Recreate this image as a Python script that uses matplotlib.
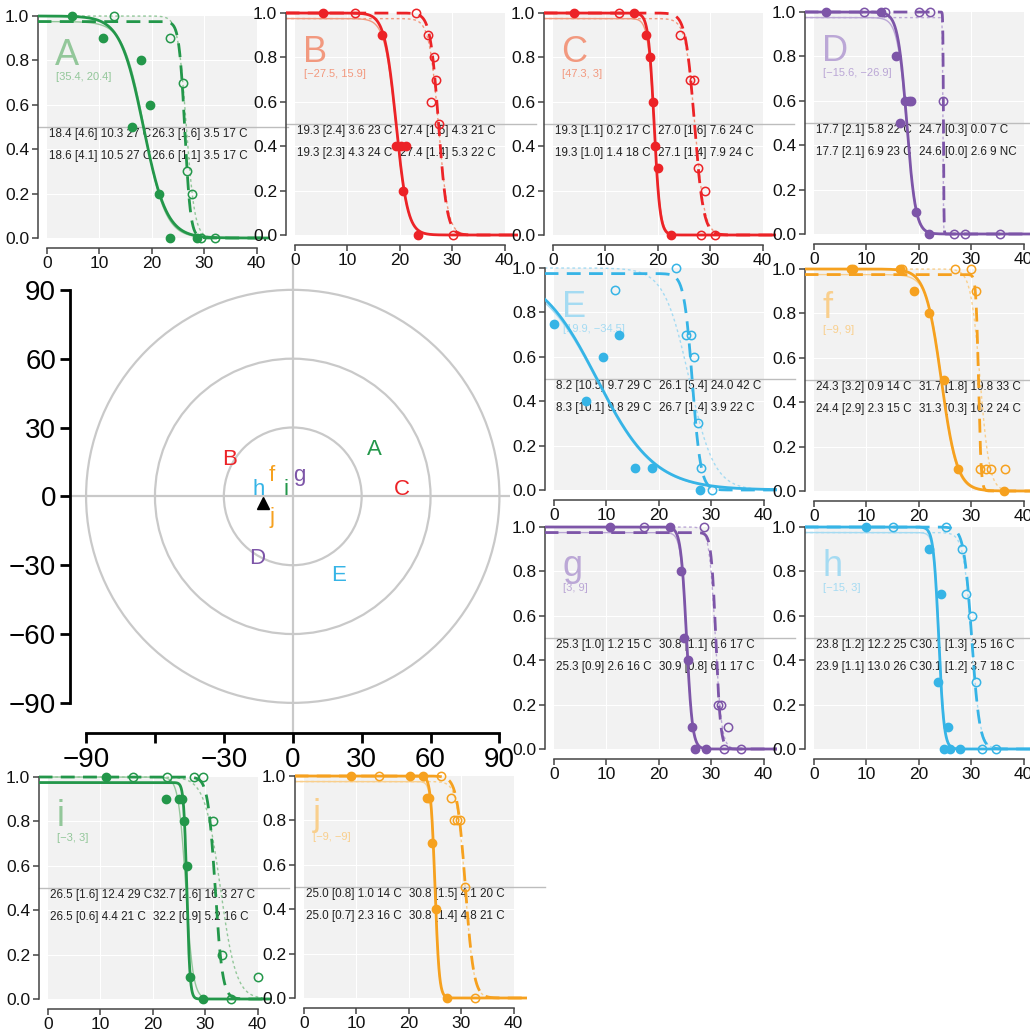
import numpy as np
import matplotlib.pyplot as plt
from matplotlib.patches import Circle, Rectangle

plt.rcParams['font.family'] = ['Liberation Sans', 'DejaVu Sans']

# ---- data ----
panels = ['A', 'B', 'C', 'D', 'E', 'f', 'g', 'h', 'i', 'j']

colors = {'A': '#23974a', 'B': '#ec2327', 'C': '#ec2327', 'D': '#7d55a8',
          'E': '#36b4e6', 'f': '#f6a11f', 'g': '#7d55a8', 'h': '#36b4e6',
          'i': '#23974a', 'j': '#f6a11f'}
light = {'A': '#93c79a', 'B': '#f2997f', 'C': '#f2997f', 'D': '#bba7d6',
         'E': '#a5dbf2', 'f': '#f9cf8d', 'g': '#bba7d6', 'h': '#a5dbf2',
         'i': '#93c79a', 'j': '#f9cf8d'}

# stimulus position [azimuth, elevation]
pos_x = {'A': 35.4, 'B': -27.5, 'C': 47.3, 'D': -15.6, 'E': 19.9,
         'f': -9, 'g': 3, 'h': -15, 'i': -3, 'j': -9}
pos_y = {'A': 20.4, 'B': 15.9, 'C': 3, 'D': -26.9, 'E': -34.5,
         'f': 9, 'g': 9, 'h': 3, 'i': 3, 'j': -9}
pos_label = {'A': '[35.4, 20.4]', 'B': '[\u221227.5, 15.9]', 'C': '[47.3, 3]',
             'D': '[\u221215.6, \u221226.9]', 'E': '[19.9, \u221234.5]',
             'f': '[\u22129, 9]', 'g': '[3, 9]', 'h': '[\u221215, 3]',
             'i': '[\u22123, 3]', 'j': '[\u22129, \u22129]'}
fix_x, fix_y = -13, -3

# filled points (condition 1)
filled_x = {
    'A': [4.7, 10.7, 17.9, 19.7, 16.2, 21.4, 23.4, 28.6],
    'B': [5.3, 16.6, 19.3, 20.3, 21.2, 20.6, 23.5],
    'C': [4.1, 15.4, 17.8, 18.5, 19.0, 19.4, 20.1, 22.5],
    'D': [2.3, 12.8, 15.7, 17.4, 18.1, 18.6, 16.5, 19.4, 22.0],
    'E': [0.0, 6.2, 9.4, 12.4, 15.5, 18.7, 27.9],
    'f': [7.1, 7.5, 16.4, 19.0, 21.9, 24.8, 27.5, 36.3],
    'g': [10.7, 22.2, 24.2, 24.9, 25.6, 26.3, 27.0, 29.1],
    'h': [10.0, 22.0, 24.3, 23.7, 25.5, 24.9, 26.0, 27.8],
    'i': [11.0, 22.5, 25.0, 25.5, 26.0, 26.6, 27.1, 29.5],
    'j': [9.0, 20.3, 22.8, 23.5, 23.9, 24.4, 25.1, 27.3],
}
filled_y = {
    'A': [1.0, 0.9, 0.8, 0.6, 0.5, 0.2, 0.0, 0.0],
    'B': [1.0, 0.9, 0.4, 0.4, 0.4, 0.2, 0.0],
    'C': [1.0, 1.0, 0.9, 0.8, 0.6, 0.4, 0.3, 0.0],
    'D': [1.0, 1.0, 0.8, 0.6, 0.6, 0.6, 0.5, 0.1, 0.0],
    'E': [0.75, 0.4, 0.6, 0.7, 0.1, 0.1, 0.0],
    'f': [1.0, 1.0, 1.0, 0.9, 0.8, 0.5, 0.1, 0.0],
    'g': [1.0, 1.0, 0.8, 0.5, 0.4, 0.1, 0.0, 0.0],
    'h': [1.0, 0.9, 0.7, 0.3, 0.1, 0.0, 0.0, 0.0],
    'i': [1.0, 0.9, 0.9, 0.9, 0.8, 0.6, 0.1, 0.0],
    'j': [1.0, 1.0, 1.0, 0.9, 0.9, 0.7, 0.4, 0.0],
}
# open points (condition 2)
open_x = {
    'A': [12.8, 23.4, 26.0, 26.8, 27.7, 29.4, 32.0],
    'B': [11.5, 23.0, 25.4, 26.5, 27.0, 25.9, 27.5, 30.1],
    'C': [12.6, 24.3, 26.1, 27.0, 27.7, 29.0, 28.3, 31.0],
    'D': [9.5, 13.6, 20.0, 22.2, 24.7, 26.8, 28.9, 35.5],
    'E': [11.7, 23.3, 25.2, 26.1, 26.8, 27.4, 28.0, 30.1],
    'f': [16.8, 27.0, 29.9, 30.9, 31.7, 32.8, 33.7, 36.5],
    'g': [17.2, 28.7, 31.3, 31.8, 33.2, 32.4, 35.7],
    'h': [15.0, 25.2, 28.2, 29.1, 30.1, 31.0, 32.0, 34.7],
    'i': [16.3, 22.7, 27.9, 29.6, 31.4, 33.2, 40.1, 35.0],
    'j': [14.3, 26.1, 28.1, 28.7, 29.2, 29.8, 30.7, 32.6],
}
open_y = {
    'A': [1.0, 0.9, 0.7, 0.3, 0.2, 0.0, 0.0],
    'B': [1.0, 1.0, 0.9, 0.8, 0.7, 0.6, 0.5, 0.0],
    'C': [1.0, 0.9, 0.7, 0.7, 0.3, 0.2, 0.0, 0.0],
    'D': [1.0, 1.0, 1.0, 1.0, 0.6, 0.0, 0.0, 0.0],
    'E': [0.9, 1.0, 0.7, 0.7, 0.6, 0.3, 0.1, 0.0],
    'f': [1.0, 1.0, 1.0, 0.9, 0.1, 0.1, 0.1, 0.1],
    'g': [1.0, 1.0, 0.2, 0.2, 0.1, 0.0, 0.0],
    'h': [1.0, 1.0, 0.9, 0.7, 0.6, 0.3, 0.0, 0.0],
    'i': [1.0, 1.0, 1.0, 1.0, 0.8, 0.2, 0.1, 0.0],
    'j': [1.0, 1.0, 0.9, 0.8, 0.8, 0.8, 0.5, 0.0],
}

# fitted curves: (threshold, spread, upper asymptote)
fit_filled = {'A': (18.4, 2.2, 1.0), 'B': (19.3, 1.1, 1.0), 'C': (19.3, 0.55, 1.0),
              'D': (17.7, 0.85, 1.0), 'E': (8.2, 5.5, 1.0), 'f': (24.3, 1.5, 1.0),
              'g': (25.3, 0.55, 1.0), 'h': (23.8, 0.5, 1.0), 'i': (26.5, 0.3, 0.975),
              'j': (25.0, 0.4, 1.0)}
fit_filled_alt = {'A': (18.6, 2.0, 0.975), 'B': (19.3, 1.1, 0.975), 'C': (19.3, 0.6, 0.975),
                  'D': (17.7, 0.9, 0.975), 'E': (8.3, 5.4, 0.975), 'f': (24.4, 1.4, 0.975),
                  'g': (25.3, 0.55, 0.975), 'h': (23.9, 0.5, 0.975), 'i': (26.3, 0.7, 1.0),
                  'j': (25.0, 0.4, 0.975)}
fit_open = {'A': (26.3, 0.55, 0.975), 'B': (27.4, 0.8, 1.0), 'C': (27.0, 0.85, 1.0),
            'D': (24.7, 0.05, 1.0), 'E': (26.4, 0.8, 0.975), 'f': (31.4, 0.25, 0.975),
            'g': (30.9, 0.45, 0.975), 'h': (30.1, 0.75, 1.0), 'i': (31.9, 0.7, 1.0),
            'j': (30.8, 0.8, 1.0)}
fit_open_alt = {'A': (26.6, 0.8, 1.0), 'B': (27.4, 0.9, 0.975), 'C': (27.1, 0.9, 0.975),
                'D': (24.6, 0.05, 0.975), 'E': (25.8, 2.4, 1.0), 'f': (31.7, 0.9, 1.0),
                'g': (30.8, 0.6, 1.0), 'h': (30.1, 0.8, 0.975), 'i': (32.9, 1.5, 1.0),
                'j': (30.8, 0.8, 0.975)}

stats_row1 = {
    'A': ('18.4 [4.6] 10.3 27 C', '26.3 [1.6] 3.5 17 C'),
    'B': ('19.3 [2.4] 3.6 23 C', '27.4 [1.5] 4.3 21 C'),
    'C': ('19.3 [1.1] 0.2 17 C', '27.0 [1.6] 7.6 24 C'),
    'D': ('17.7 [2.1] 5.8 22 C', '24.7 [0.3] 0.0 7 C'),
    'E': ('8.2 [10.5] 9.7 29 C', '26.1 [5.4] 24.0 42 C'),
    'f': ('24.3 [3.2] 0.9 14 C', '31.7 [1.8] 19.8 33 C'),
    'g': ('25.3 [1.0] 1.2 15 C', '30.8 [1.1] 6.6 17 C'),
    'h': ('23.8 [1.2] 12.2 25 C', '30.1 [1.3] 2.5 16 C'),
    'i': ('26.5 [1.6] 12.4 29 C', '32.7 [2.6] 16.3 27 C'),
    'j': ('25.0 [0.8] 1.0 14 C', '30.8 [1.5] 4.1 20 C'),
}
stats_row2 = {
    'A': ('18.6 [4.1] 10.5 27 C', '26.6 [1.1] 3.5 17 C'),
    'B': ('19.3 [2.3] 4.3 24 C', '27.4 [1.4] 5.3 22 C'),
    'C': ('19.3 [1.0] 1.4 18 C', '27.1 [1.4] 7.9 24 C'),
    'D': ('17.7 [2.1] 6.9 23 C', '24.6 [0.0] 2.6 9 NC'),
    'E': ('8.3 [10.1] 9.8 29 C', '26.7 [1.4] 3.9 22 C'),
    'f': ('24.4 [2.9] 2.3 15 C', '31.3 [0.3] 10.2 24 C'),
    'g': ('25.3 [0.9] 2.6 16 C', '30.9 [0.8] 6.1 17 C'),
    'h': ('23.9 [1.1] 13.0 26 C', '30.1 [1.2] 3.7 18 C'),
    'i': ('26.5 [0.6] 4.4 21 C', '32.2 [0.9] 5.2 16 C'),
    'j': ('25.0 [0.7] 2.3 16 C', '30.8 [1.4] 4.8 21 C'),
}

rings = [30, 60, 90]
polar_ticks = [-90, -60, -30, 0, 30, 60, 90]
polar_xlabels = ['\u221290', '', '\u221230', '0', '30', '60', '90']
polar_ylabels = ['\u221290', '\u221260', '\u221230', '0', '30', '60', '90']

# ---- layout (pixels of data x=0 and data y=1 for each panel) ----
W = H = 1030
origin = {'A': (47, 16), 'B': (295, 13), 'C': (553, 13), 'D': (814, 12),
          'E': (554, 268), 'f': (814, 269), 'g': (554, 527), 'h': (814, 527),
          'i': (48, 777), 'j': (304, 776)}
sx, sy = 5.24, 222.0
xlo, xhi = -1.8, 42.5
ylo, yhi = -0.045, 1.03


def curve(x, p):
    x50, s, top = p
    return top * 0.5 * (1 - np.tanh((x - x50) / (2 * s)))


fig = plt.figure(figsize=(10.3, 10.3), dpi=100)

# ---- polar target plot ----
pl, pr, pt, pb = 70, 510, 260, 732.7
axp = fig.add_axes([pl / W, 1 - pb / H, (pr - pl) / W, (pb - pt) / H])
axp.set_xlim(-97, 94.6)
axp.set_ylim(-103, 103)
for r in rings:
    axp.add_patch(Circle((0, 0), r, fill=False, ec='#c9c9c9', lw=1.6))
axp.axhline(0, color='#c9c9c9', lw=1.6)
axp.axvline(0, color='#c9c9c9', lw=1.6)
for p in panels:
    axp.text(pos_x[p], pos_y[p], p, color=colors[p], fontsize=16,
             ha='center', va='center')
axp.plot([fix_x], [fix_y], marker='^', color='black', ms=9, ls='none')
for side in ['top', 'right']:
    axp.spines[side].set_visible(False)
for side in ['left', 'bottom']:
    axp.spines[side].set_linewidth(2)
    axp.spines[side].set_bounds(-90, 90)
axp.set_xticks(polar_ticks)
axp.set_xticklabels(polar_xlabels)
axp.set_yticks(polar_ticks)
axp.set_yticklabels(polar_ylabels)
axp.tick_params(labelsize=20, length=7, width=2, direction='out', pad=3)
axp.set_facecolor('none')

# ---- psychometric panels ----
xs = np.linspace(xlo, xhi, 1500)
for p in panels:
    x0, y1 = origin[p]
    left = x0 + xlo * sx
    top = y1 - (yhi - 1) * sy
    w = (xhi - xlo) * sx
    h = (yhi - ylo) * sy
    ax = fig.add_axes([left / W, 1 - (top + h) / H, w / W, h / H])
    ax.set_xlim(xlo, xhi)
    ax.set_ylim(ylo, yhi)
    ax.set_facecolor('none')

    ax.add_patch(Rectangle((0, 0), 40, 1, fc='#f2f2f2', ec='none', zorder=0))
    for gx in [10, 20, 30]:
        ax.plot([gx, gx], [0, 1], color='white', lw=0.8, zorder=0.5)
    for gy in [0.2, 0.4, 0.6, 0.8]:
        ax.plot([0, 40], [gy, gy], color='white', lw=0.8, zorder=0.5)
    ax.plot([xlo, 46], [0.5, 0.5], color='#bdbdbd', lw=1, zorder=1, clip_on=False)

    ax.text(0.3, 0.47, stats_row1[p][0], fontsize=8.4, color='#222222', va='center', zorder=1.5)
    ax.text(20.0, 0.47, stats_row1[p][1], fontsize=8.4, color='#222222', va='center', zorder=1.5)
    ax.text(0.3, 0.37, stats_row2[p][0], fontsize=8.4, color='#222222', va='center', zorder=1.5)
    ax.text(20.0, 0.37, stats_row2[p][1], fontsize=8.4, color='#222222', va='center', zorder=1.5)

    ax.text(1.6, 0.78, p, fontsize=26, color=light[p], va='baseline', zorder=1.5)
    ax.text(1.8, 0.725, pos_label[p], fontsize=8, color=light[p], va='center', zorder=1.5)

    ax.plot(xs, curve(xs, fit_filled_alt[p]), color=light[p], lw=1.0, zorder=2)
    ax.plot(xs, curve(xs, fit_open_alt[p]), color=light[p], lw=1.0, ls=(0, (2, 2)), zorder=2)
    ax.plot(xs, curve(xs, fit_filled[p]), color=colors[p], lw=2.0, zorder=3)
    ax.plot(xs, curve(xs, fit_open[p]), color=colors[p], lw=2.0, ls=(0, (5, 3)), zorder=3)

    ax.plot(filled_x[p], filled_y[p], 'o', color=colors[p], ms=6, ls='none',
            clip_on=False, zorder=4)
    ax.plot(open_x[p], open_y[p], 'o', mfc='none', mec=colors[p], mew=1.1, ms=6,
            ls='none', clip_on=False, zorder=4)

    for side in ['top', 'right']:
        ax.spines[side].set_visible(False)
    ax.spines['left'].set_bounds(0, 1)
    ax.spines['bottom'].set_bounds(0, 40)
    for side in ['left', 'bottom']:
        ax.spines[side].set_color('#444444')
        ax.spines[side].set_linewidth(1.1)
    ax.set_xticks([0, 10, 20, 30, 40])
    ax.set_yticks([0, 0.2, 0.4, 0.6, 0.8, 1.0])
    ax.set_yticklabels(['0.0', '0.2', '0.4', '0.6', '0.8', '1.0'])
    ax.tick_params(labelsize=12.5, length=4, width=1.1, color='#444444',
                   labelcolor='#111111', pad=2)

fig.savefig('out.png', dpi=100)
